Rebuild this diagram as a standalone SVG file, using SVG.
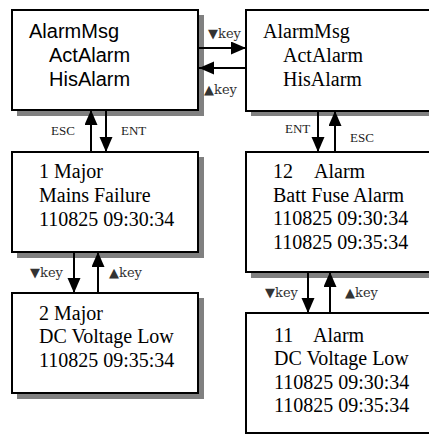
<svg xmlns="http://www.w3.org/2000/svg" width="429" height="435" viewBox="0 0 429 435">
<style>
.shadow{fill:#808080}
.box{fill:#fff;stroke:#000;stroke-width:2}
.sans{font-family:"Liberation Sans",Arial,sans-serif;font-size:20px;fill:#000}
.serif{font-family:"Liberation Serif","Times New Roman",serif;font-size:20px;fill:#000}
.lbl{font-family:"Liberation Serif","Times New Roman",serif;font-size:13px;fill:#222}
.key{font-family:"DejaVu Serif",serif;font-size:13px;fill:#333}
.conn{stroke:#000;stroke-width:2;fill:none;marker-end:url(#ah)}
</style>
<defs>
<marker id="ah" markerUnits="userSpaceOnUse" markerWidth="16" markerHeight="14" refX="15" refY="6.5" orient="auto">
<path d="M0,0 L15,6.5 L0,13 Z" fill="#000"/>
</marker>
</defs>
<rect width="429" height="435" fill="#fff"/>
<g id="node-menu-sans">
<rect class="shadow" x="17" y="15" width="187" height="101"/>
<rect class="box" x="12" y="10" width="186" height="100"/>
<text class="sans" x="29" y="38">AlarmMsg</text>
<text class="sans" x="49" y="62">ActAlarm</text>
<text class="sans" x="49" y="86">HisAlarm</text>
</g>
<g id="node-menu-serif">
<rect class="shadow" x="251" y="15" width="190" height="101"/>
<rect class="box" x="246" y="10" width="190" height="101"/>
<text class="serif" x="263" y="38">AlarmMsg</text>
<text class="serif" x="283" y="62">ActAlarm</text>
<text class="serif" x="283" y="86">HisAlarm</text>
</g>
<g id="node-major1">
<rect class="shadow" x="17" y="157" width="187" height="101"/>
<rect class="box" x="12" y="152" width="186" height="100"/>
<text class="serif" x="39" y="178">1 Major</text>
<text class="serif" x="39" y="202">Mains Failure</text>
<text class="serif" x="39" y="226">110825 09:30:34</text>
</g>
<g id="node-major2">
<rect class="shadow" x="17" y="298" width="187" height="101"/>
<rect class="box" x="12" y="293" width="186" height="100"/>
<text class="serif" x="39" y="320">2 Major</text>
<text class="serif" x="39" y="343">DC Voltage Low</text>
<text class="serif" x="39" y="367">110825 09:35:34</text>
</g>
<g id="node-alarm12">
<rect class="shadow" x="251" y="157" width="190" height="121"/>
<rect class="box" x="246" y="152" width="190" height="120"/>
<text class="serif" x="273" y="178">12</text>
<text class="serif" x="314" y="178">Alarm</text>
<text class="serif" x="273" y="202">Batt Fuse Alarm</text>
<text class="serif" x="273" y="225">110825 09:30:34</text>
<text class="serif" x="273" y="249">110825 09:35:34</text>
</g>
<g id="node-alarm11">
<rect class="box" x="246" y="313" width="190" height="120"/>
<text class="serif" x="274" y="342">11</text>
<text class="serif" x="313" y="342">Alarm</text>
<text class="serif" x="274" y="365">DC Voltage Low</text>
<text class="serif" x="274" y="389">110825 09:30:34</text>
<text class="serif" x="274" y="412">110825 09:35:34</text>
</g>
<g id="connectors">
<path class="conn" d="M198,48 H246"/>
<path class="conn" d="M246,68 H199"/>
<path class="conn" d="M91,152 V110"/>
<path class="conn" d="M106,110 V152"/>
<path class="conn" d="M318,111 V152"/>
<path class="conn" d="M335,152 V111"/>
<path class="conn" d="M74,252 V293"/>
<path class="conn" d="M98,293 V252"/>
<path class="conn" d="M308,272 V313"/>
<path class="conn" d="M330,313 V272"/>
<text class="key" x="208" y="38">▼key</text>
<text class="key" x="204" y="94">▲key</text>
<text class="lbl" x="51" y="135">ESC</text>
<text class="lbl" x="121" y="135">ENT</text>
<text class="lbl" x="285" y="133">ENT</text>
<text class="lbl" x="350" y="142">ESC</text>
<text class="key" x="30" y="277">▼key</text>
<text class="key" x="109" y="277">▲key</text>
<text class="key" x="265" y="297">▼key</text>
<text class="key" x="345" y="297">▲key</text>
</g>
</svg>
